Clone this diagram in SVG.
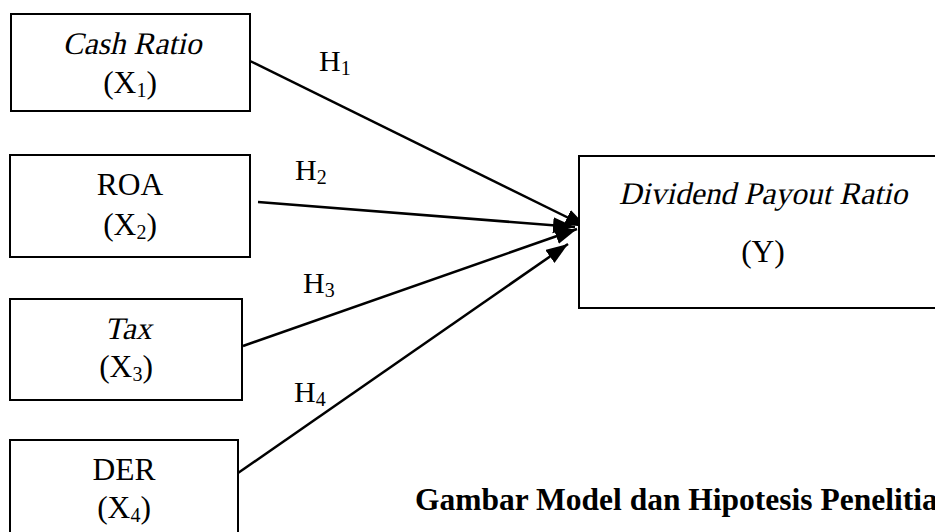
<svg xmlns="http://www.w3.org/2000/svg" width="935" height="532" viewBox="0 0 935 532">
<style>
.box{fill:#fff;stroke:#000;stroke-width:2}
.t{font-family:"Liberation Serif","Times New Roman",serif;font-size:31.5px;fill:#000;text-anchor:middle}
.h{font-family:"Liberation Serif","Times New Roman",serif;font-size:30px;fill:#000}
.sub{font-size:20px}
.cap{font-family:"Liberation Serif","Times New Roman",serif;font-size:31.5px;font-weight:bold;fill:#000}
.c{stroke:#000;stroke-width:2.5;fill:none;marker-end:url(#ah)}
</style>
<defs>
<marker id="ah" markerUnits="userSpaceOnUse" markerWidth="24" markerHeight="18" refX="22" refY="8" orient="auto">
<path d="M0,0 L22,8 L0,16 z" fill="#000"/>
</marker>
</defs>
<rect width="935" height="532" fill="#fff"/>
<g id="connectors">
<line class="c" x1="250" y1="61" x2="587" y2="227"/>
<line class="c" x1="258" y1="202" x2="575" y2="227"/>
<line class="c" x1="243" y1="346" x2="577" y2="229"/>
<line class="c" x1="238" y1="473" x2="568" y2="244"/>
<text class="h" x="319" y="71">H<tspan class="sub" dy="4">1</tspan></text>
<text class="h" x="295" y="180">H<tspan class="sub" dy="4">2</tspan></text>
<text class="h" x="303" y="293">H<tspan class="sub" dy="4">3</tspan></text>
<text class="h" x="294" y="402">H<tspan class="sub" dy="4">4</tspan></text>
</g>
<g id="x1">
<rect class="box" x="11" y="14" width="239" height="97"/>
<text class="t" transform="translate(132,54) skewX(-13)" x="0" y="0">Cash Ratio</text>
<text class="t" x="130" y="93">(X<tspan class="sub" dy="4">1</tspan><tspan dy="-4">)</tspan></text>
</g>
<g id="x2">
<rect class="box" x="10" y="155" width="240" height="102"/>
<text class="t" x="130" y="195">ROA</text>
<text class="t" x="130" y="235">(X<tspan class="sub" dy="4">2</tspan><tspan dy="-4">)</tspan></text>
</g>
<g id="x3">
<rect class="box" x="10" y="299" width="232" height="101"/>
<text class="t" transform="translate(128,339) skewX(-13)" x="0" y="0">Tax</text>
<text class="t" x="126" y="377">(X<tspan class="sub" dy="4">3</tspan><tspan dy="-4">)</tspan></text>
</g>
<g id="x4">
<rect class="box" x="10" y="440" width="228" height="100"/>
<text class="t" x="124" y="480">DER</text>
<text class="t" x="124" y="518">(X<tspan class="sub" dy="4">4</tspan><tspan dy="-4">)</tspan></text>
</g>
<g id="y">
<rect class="box" x="579" y="156" width="370" height="152"/>
<text class="t" transform="translate(763,204) skewX(-13)" x="0" y="0">Dividend Payout Ratio</text>
<text class="t" x="763" y="262">(Y)</text>
</g>
<text class="cap" x="415" y="510">Gambar Model dan Hipotesis Penelitian</text>
</svg>
